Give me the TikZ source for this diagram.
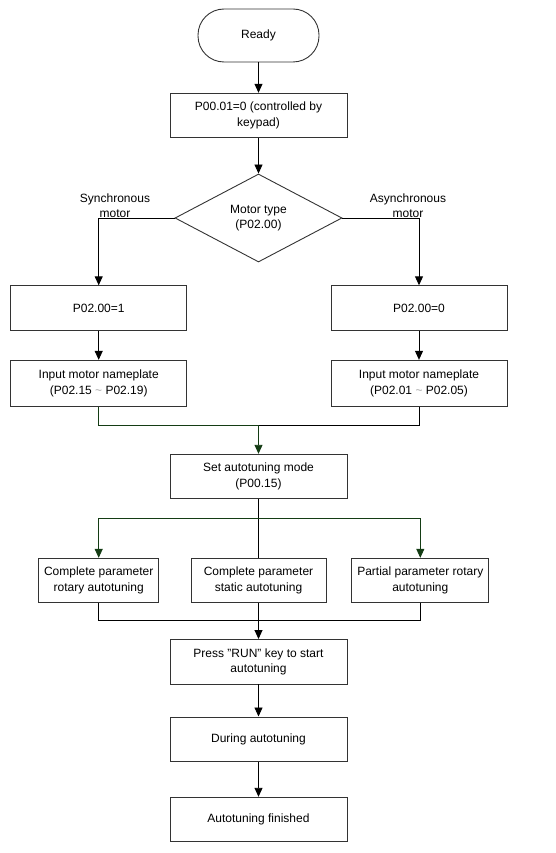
\documentclass[tikz,border=0pt]{standalone}
\usepackage{fontspec}
\setmainfont{Liberation Sans}
\usepackage{xcolor}
\usepackage{tikz}
\usetikzlibrary{arrows.meta,shapes.geometric}

\definecolor{wire}{RGB}{20,60,20}

\begin{document}
\begin{tikzpicture}[x=1pt,y=-1pt,
                    >={Triangle[length=9pt,width=8pt]},
                    every node/.style={font=\fontsize{12}{15.5}\selectfont, align=center},
                    box/.style={draw=black!80, shape=rectangle, minimum width=177pt, minimum height=44.5pt, inner sep=1pt},
                    line width=0.9pt]
                    \useasboundingbox (0,0) rectangle (555,853);

                    \node[draw=black!80, shape=rectangle, rounded corners=26pt, minimum width=121pt, minimum height=53pt] (Ready) at (258.5,35.5) {Ready};
                    \node[box] (Keypad) at (258.5,115.5) {P00.01=0 (controlled by\\keypad)};
                    \node[draw=black!80, shape=diamond, minimum width=167pt, minimum height=88pt, inner sep=0pt, shape aspect=1.9] (Type) at (258.5,218) {Motor type\\(P02.00)};
                    \node (Sync) at (115,205.5) {Synchronous\\motor};
                    \node (Async) at (408,205.5) {Asynchronous\\motor};
                    \node[box, minimum width=176pt] (P1) at (98.7,308) {P02.00=1};
                    \node[box, minimum width=176pt] (P0) at (419,308) {P02.00=0};
                    \node[box, minimum width=176pt, minimum height=46pt] (Plate1) at (98.7,383.3) {Input motor nameplate\\(P02.15 {\color{black!35}\textasciitilde} P02.19)};
                    \node[box, minimum width=176pt, minimum height=46pt] (Plate0) at (419,383.3) {Input motor nameplate\\(P02.01 {\color{black!35}\textasciitilde} P02.05)};
                    \node[box] (Mode) at (258.5,476.5) {Set autotuning mode\\(P00.15)};
                    \node[box, minimum width=120pt, minimum height=44pt] (Rotary) at (98.7,580.3) {Complete parameter\\rotary autotuning};
                    \node[box, minimum width=135pt, minimum height=44pt] (Static) at (258.5,580.3) {Complete parameter\\static autotuning};
                    \node[box, minimum width=137pt, minimum height=44pt] (Partial) at (420.3,580.3) {Partial parameter rotary\\autotuning};
                    \node[box] (Run) at (258.5,661.7) {Press \char34 RUN\char34{} key to start\\autotuning};
                    \node[box] (During) at (258.5,739.2) {During autotuning};
                    \node[box] (Done) at (258.5,819.5) {Autotuning finished};

                    \coordinate (J1) at (258.5,425);
                    \coordinate (Split) at (258.5,518.3);
                    \coordinate (J2) at (258.5,620.3);

                    \draw[->] (Ready) -- (Keypad);
                    \draw[->] (Keypad) -- (Type);
                    \draw[->] (Type.west) -| (P1);
                    \draw[->] (Type.east) -| (P0);
                    \draw[->] (P1) -- (Plate1);
                    \draw[->] (P0) -- (Plate0);
                    \draw[wire] (Plate1) |- (J1);
                    \draw (Plate0) |- (J1);
                    \draw[->, wire] (J1) -- (Mode);
                    \draw (Mode) -- (Static);
                    \draw[->, wire] (Split) -| (Rotary);
                    \draw[->, wire] (Split) -| (Partial);
                    \draw (Rotary) |- (J2);
                    \draw (Partial) |- (J2);
                    \draw[->] (Static) -- (Run);
                    \draw[->] (Run) -- (During);
                    \draw[->] (During) -- (Done);
                \end{tikzpicture}
\end{document}
